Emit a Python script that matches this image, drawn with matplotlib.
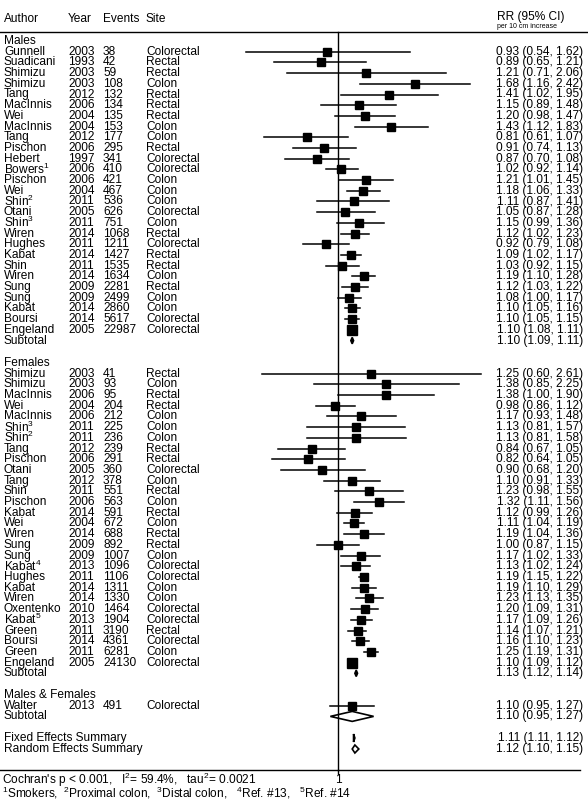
import numpy as np
import matplotlib.pyplot as plt
from matplotlib.patches import Polygon

plt.rcParams['font.family'] = ['Liberation Sans', 'DejaVu Sans']
plt.rcParams['mathtext.fontset'] = 'custom'
plt.rcParams['mathtext.rm'] = 'Liberation Sans'

# males
m_author = ['Gunnell', 'Suadicani', 'Shimizu', 'Shimizu', 'Tang', 'MacInnis', 'Wei', 'MacInnis', 'Tang',
            'Pischon', 'Hebert', 'Bowers$^{1}$', 'Pischon', 'Wei', 'Shin$^{2}$', 'Otani', 'Shin$^{3}$', 'Wiren',
            'Hughes', 'Kabat', 'Shin', 'Wiren', 'Sung', 'Sung', 'Kabat', 'Boursi', 'Engeland']
m_year = [2003, 1993, 2003, 2003, 2012, 2006, 2004, 2004, 2012, 2006, 1997, 2006, 2006, 2004, 2011, 2005,
          2011, 2014, 2011, 2014, 2011, 2014, 2009, 2009, 2014, 2014, 2005]
m_events = [38, 42, 59, 108, 132, 134, 135, 153, 177, 295, 341, 410, 421, 467, 536, 626, 751, 1068, 1211,
            1427, 1535, 1634, 2281, 2499, 2860, 5617, 22987]
m_site = ['Colorectal', 'Rectal', 'Rectal', 'Colon', 'Rectal', 'Rectal', 'Rectal', 'Colon', 'Colon', 'Rectal',
          'Colorectal', 'Colorectal', 'Colon', 'Colon', 'Colon', 'Colorectal', 'Colon', 'Rectal', 'Colorectal',
          'Rectal', 'Rectal', 'Colon', 'Rectal', 'Colon', 'Colon', 'Colorectal', 'Colorectal']
m_rr = [0.93, 0.89, 1.21, 1.68, 1.41, 1.15, 1.20, 1.43, 0.81, 0.91, 0.87, 1.02, 1.21, 1.18, 1.11, 1.05, 1.15,
        1.12, 0.92, 1.09, 1.03, 1.19, 1.12, 1.08, 1.10, 1.10, 1.10]
m_lo = [0.54, 0.65, 0.71, 1.16, 1.02, 0.89, 0.98, 1.12, 0.61, 0.74, 0.70, 0.92, 1.01, 1.06, 0.87, 0.87, 0.99,
        1.02, 0.79, 1.02, 0.92, 1.10, 1.03, 1.00, 1.05, 1.05, 1.08]
m_hi = [1.62, 1.21, 2.06, 2.42, 1.95, 1.48, 1.47, 1.83, 1.07, 1.13, 1.08, 1.14, 1.45, 1.33, 1.41, 1.28, 1.36,
        1.23, 1.08, 1.17, 1.15, 1.28, 1.22, 1.17, 1.16, 1.15, 1.11]
m_sub = (1.10, 1.09, 1.11)

# females
f_author = ['Shimizu', 'Shimizu', 'MacInnis', 'Wei', 'MacInnis', 'Shin$^{3}$', 'Shin$^{2}$', 'Tang', 'Pischon',
            'Otani', 'Tang', 'Shin', 'Pischon', 'Kabat', 'Wei', 'Wiren', 'Sung', 'Sung', 'Kabat$^{4}$', 'Hughes',
            'Kabat', 'Wiren', 'Oxentenko', 'Kabat$^{5}$', 'Green', 'Boursi', 'Green', 'Engeland']
f_year = [2003, 2003, 2006, 2004, 2006, 2011, 2011, 2012, 2006, 2005, 2012, 2011, 2006, 2014, 2004, 2014,
          2009, 2009, 2013, 2011, 2014, 2014, 2010, 2013, 2011, 2014, 2011, 2005]
f_events = [41, 93, 95, 204, 212, 225, 236, 239, 291, 360, 378, 551, 563, 591, 672, 688, 892, 1007, 1096,
            1106, 1311, 1330, 1464, 1904, 3190, 4361, 6281, 24130]
f_site = ['Rectal', 'Colon', 'Rectal', 'Rectal', 'Colon', 'Colon', 'Colon', 'Rectal', 'Rectal', 'Colorectal',
          'Colon', 'Rectal', 'Colon', 'Rectal', 'Colon', 'Rectal', 'Rectal', 'Colon', 'Colorectal', 'Colorectal',
          'Colon', 'Colon', 'Colorectal', 'Colorectal', 'Rectal', 'Colorectal', 'Colon', 'Colorectal']
f_rr = [1.25, 1.38, 1.38, 0.98, 1.17, 1.13, 1.13, 0.84, 0.82, 0.90, 1.10, 1.23, 1.32, 1.12, 1.11, 1.19, 1.00,
        1.17, 1.13, 1.19, 1.19, 1.23, 1.20, 1.17, 1.14, 1.16, 1.25, 1.10]
f_lo = [0.60, 0.85, 1.00, 0.86, 0.93, 0.81, 0.81, 0.67, 0.64, 0.68, 0.91, 0.98, 1.11, 0.99, 1.04, 1.04, 0.87,
        1.02, 1.02, 1.15, 1.10, 1.13, 1.09, 1.09, 1.07, 1.10, 1.19, 1.09]
f_hi = [2.61, 2.25, 1.90, 1.12, 1.48, 1.57, 1.58, 1.05, 1.05, 1.20, 1.33, 1.55, 1.56, 1.26, 1.19, 1.36, 1.15,
        1.33, 1.24, 1.22, 1.29, 1.35, 1.31, 1.26, 1.21, 1.23, 1.31, 1.12]
f_sub = (1.13, 1.12, 1.14)

# males & females
b_author = ['Walter']
b_year = [2013]
b_events = [491]
b_site = ['Colorectal']
b_rr, b_lo, b_hi = [1.10], [0.95], [1.27]
b_sub = (1.10, 0.95, 1.27)

fixed = (1.11, 1.11, 1.12)
rand = (1.12, 1.10, 1.15)

fig = plt.figure(figsize=(5.88, 8), dpi=100)
tx = fig.add_axes([0, 0, 1, 1])
tx.set_xlim(0, 588)
tx.set_ylim(800, 0)
tx.axis('off')
fx = fig.add_axes([200 / 588, 0, 290 / 588, 1])
fx.set_xscale('log')
fx.set_xlim(np.exp((200 - 338) / 149), np.exp((490 - 338) / 149))
fx.set_ylim(800, 0)
fx.axis('off')

fs = 8.6
step = 10.7
cols = [4, 68, 103, 146]
headers = ['Author', 'Year', 'Events', 'Site']


def fmt(r, lo, hi):
    return f'{r:.2f} ({lo:.2f}, {hi:.2f})'


def row_text(y, items):
    for x, s in zip(cols, items):
        tx.text(x, y, s, fontsize=fs, va='center', ha='left')


def diamond(y, r, lo, hi, h=3.2, fill='black'):
    pts = [(lo, y), (r, y - h), (hi, y), (r, y + h)]
    fx.add_patch(Polygon(pts, closed=True, facecolor=fill, edgecolor='black', lw=1.2))
    tx.text(583, y, fmt(r, lo, hi), fontsize=fs, va='center', ha='right')


def group(y0, authors, years, events, sites, rr, lo, hi):
    y = y0
    for a, yr, ev, s, r, l, h in zip(authors, years, events, sites, rr, lo, hi):
        row_text(y, [a, str(yr), str(ev), s])
        fx.plot([l, h], [y, y], color='black', lw=1.1)
        ms = 4.5 + 0.5 * np.log10(ev)
        fx.plot([r], [y], marker='s', color='black', ms=ms)
        tx.text(583, y, fmt(r, l, h), fontsize=fs, va='center', ha='right')
        y += step
    return y


# header
for x, s in zip(cols, headers):
    tx.text(x, 19, s, fontsize=fs, va='center')
tx.text(497, 17, 'RR (95% CI)', fontsize=fs, va='center')
tx.text(497, 26, 'per 10 cm increase', fontsize=5, va='center')
tx.plot([0, 588], [32, 32], color='black', lw=1)

tx.text(4, 41, 'Males', fontsize=fs, va='center')
y = group(41 + step, m_author, m_year, m_events, m_site, m_rr, m_lo, m_hi)
tx.text(4, y, 'Subtotal', fontsize=fs, va='center')
diamond(y, *m_sub)

tx.text(4, 363, 'Females', fontsize=fs, va='center')
y = group(363 + step, f_author, f_year, f_events, f_site, f_rr, f_lo, f_hi)
tx.text(4, y, 'Subtotal', fontsize=fs, va='center')
diamond(y, *f_sub)

tx.text(4, 695, 'Males & Females', fontsize=fs, va='center')
y = group(695 + step, b_author, b_year, b_events, b_site, b_rr, b_lo, b_hi)
tx.text(4, y, 'Subtotal', fontsize=fs, va='center')
diamond(y, *b_sub, h=5, fill='white')

tx.text(4, 738, 'Fixed Effects Summary', fontsize=fs, va='center')
diamond(738, *fixed, h=4)
tx.text(4, 749, 'Random Effects Summary', fontsize=fs, va='center')
diamond(749, *rand, h=4, fill='white')

# reference line and axis
fx.plot([1, 1], [32, 770], color='black', lw=1)
tx.plot([0, 580], [770, 770], color='black', lw=1)
tx.plot([338, 338], [770, 774], color='black', lw=1)
tx.text(338, 780, '1', fontsize=fs, ha='center', va='center')
tx.text(2, 780, "Cochran's p < 0.001,   I$^{2}$= 59.4%,   tau$^{2}$= 0.0021", fontsize=fs, va='center')
tx.text(2, 793, '$^{1}$Smokers,  $^{2}$Proximal colon,  $^{3}$Distal colon,   $^{4}$Ref. #13,   $^{5}$Ref. #14',
        fontsize=fs, va='center')

fig.savefig('out.png', dpi=100)
